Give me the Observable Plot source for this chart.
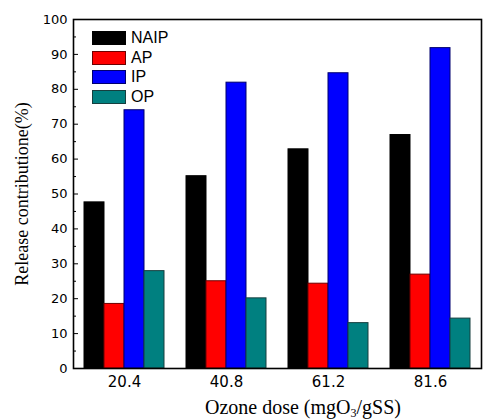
<!DOCTYPE html>
<html><head><meta charset="utf-8">
<script src="https://cdn.jsdelivr.net/npm/d3@7"></script>
<script src="https://cdn.jsdelivr.net/npm/@observablehq/plot@0.6"></script>
<style>
html,body{margin:0;padding:0;background:#fff;overflow:hidden}
#wrap{position:relative;width:495px;height:420px;overflow:hidden;background:#fff}
#wrap svg{max-width:none !important;display:block}
#legend{position:absolute;left:92px;top:28px;font:16px "Liberation Sans",Arial,sans-serif;color:#000}
#legend .row{display:flex;align-items:center;height:19.7px}
#legend .sw{width:32px;height:12px;border:1px solid #000;margin-right:5px;box-sizing:content-box}
#xtitle{position:absolute;left:72px;width:462px;top:397px;text-align:center;font:20px/20px "Liberation Serif",serif;color:#000;white-space:nowrap}
#xtitle sub{font-size:12px;line-height:0;vertical-align:-3px}
</style></head><body><div id="wrap"><div id="legend"></div><div id="xtitle"></div></div>
<script>
const doses = ["20.4", "40.8", "61.2", "81.6"];
const seriesNames = ["NAIP", "AP", "IP", "OP"];
const NAIP = [47.6, 55.1, 62.8, 66.9];
const AP = [18.5, 25.0, 24.3, 26.9];
const IP = [74.0, 81.9, 84.6, 91.8];
const OP = [27.9, 20.1, 13.0, 14.3];
const fills = ["#000000", "#ff0000", "#0000ff", "#008080"];
const strokes = ["#000000", "#6e0000", "#00006e", "#163f3f"];
const yTicks = [0, 10, 20, 30, 40, 50, 60, 70, 80, 90, 100];
const yMinor = [5, 15, 25, 35, 45, 55, 65, 75, 85, 95];
const xTitleParts = ["Ozone dose (mgO", "3", "/gSS)"];
const yTitle = "Release contributione(%)";

const valuesBySeries = {NAIP, AP, IP, OP};
const rows = [];
seriesNames.forEach(s => doses.forEach((d, i) => rows.push({dose: d, series: s, value: valuesBySeries[s][i]})));

const plot = Plot.plot({
  width: 534, height: 420,
  marginTop: 19, marginBottom: 52, marginLeft: 72, marginRight: 0,
  style: {fontFamily: "DejaVu Sans", fontSize: "13px", background: "white", color: "#000", maxWidth: "none"},
  fx: {domain: doses, range: [72, 482], padding: 0, label: null},
  x: {domain: seriesNames, axis: null, paddingInner: 0, paddingOuter: 0.44},
  y: {domain: [0, 100], axis: null},
  marks: [
    ...seriesNames.map((s, i) => Plot.barY(rows.filter(r => r.series === s), {
      fx: "dose", x: "series", y: "value", fill: fills[i], stroke: strokes[i], strokeWidth: 1
    })),
    Plot.frame({facet: "super", stroke: "#000", strokeWidth: 1.6}),
    Plot.axisY({ticks: yTicks, tickSize: -5, tickPadding: 11, fontSize: 13, label: yTitle, labelAnchor: "center", labelArrow: "none", labelOffset: 58}),
    Plot.axisY({ticks: yMinor, tickSize: -3, tickFormat: () => "", label: null}),
    Plot.axisFx({anchor: "bottom", tickSize: 0, tickPadding: 8, fontSize: 15, label: null})
  ]
});
plot.style.maxWidth = "none";
document.getElementById("wrap").prepend(plot);

// y axis title: serif font
d3.select(plot).selectAll("text").each(function() {
  if (this.textContent === yTitle) {
    d3.select(this).style("font-family", "'Liberation Serif', serif").style("font-size", "18px");
  }
});

// x axis title with subscript
const xt = d3.select("#xtitle");
xt.append("span").text(xTitleParts[0]);
xt.append("sub").text(xTitleParts[1]);
xt.append("span").text(xTitleParts[2]);

const legend = d3.select("#legend");
seriesNames.forEach((s, i) => {
  const row = legend.append("div").attr("class", "row");
  row.append("div").attr("class", "sw").style("background", fills[i]).style("border-color", strokes[i]);
  row.append("span").text(s);
});
</script>
</body></html>
